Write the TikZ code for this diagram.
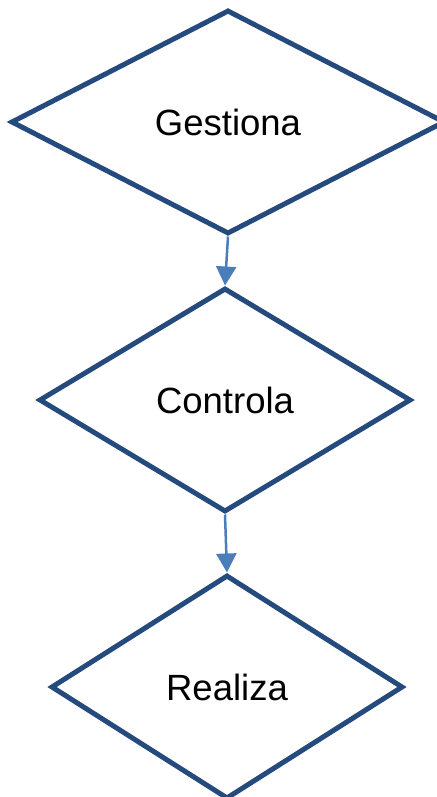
\documentclass[tikz,border=0pt]{standalone}
\usepackage{fontspec}
\setmainfont{Liberation Sans}
\usetikzlibrary{arrows.meta,positioning,shapes.geometric}

\definecolor{rombo}{RGB}{37,74,126}
\definecolor{flecha}{RGB}{74,126,187}

\begin{document}
\begin{tikzpicture}[
  x=1pt, y=1pt,
  decision/.style={diamond, draw=rombo, line width=5pt, inner sep=0pt, minimum height=224pt, font=\fontsize{36.5}{40}\selectfont},
  arr/.style={-{Triangle[length=19pt, width=20pt]}, draw=flecha, fill=flecha, line width=2.5pt}
]
\useasboundingbox (0,0) rectangle (436,-797);
\node[decision, minimum width=434pt] (gestiona) at (228,-122) {Gestiona};
\node[decision, minimum width=372pt] (controla) at (225,-400) {Controla};
\node[decision, minimum width=352pt] (realiza) at (227,-687) {Realiza};
\draw[arr] (gestiona.south) -- (controla.north);
\draw[arr] (controla.south) -- (realiza.north);
\end{tikzpicture}
\end{document}
